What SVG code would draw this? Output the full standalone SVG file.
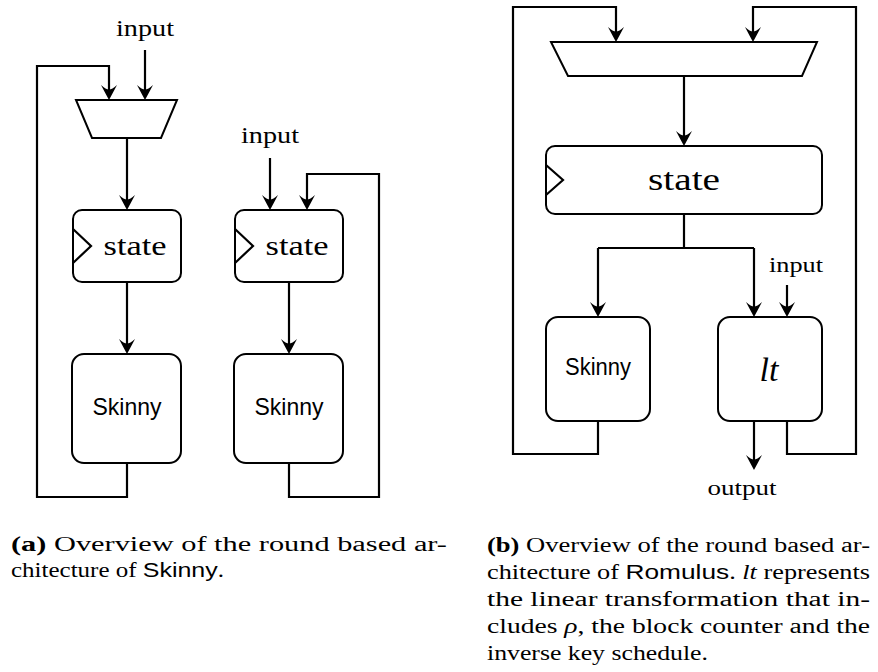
<svg xmlns="http://www.w3.org/2000/svg" width="878" height="672" viewBox="0 0 878 672">
<defs>
<style>
.box{fill:#fff;stroke:#000;stroke-width:2}
.ln{fill:none;stroke:#000;stroke-width:2.2;stroke-linejoin:miter}
.sans{font-family:"Liberation Sans",Arial,sans-serif;fill:#000}
.serif{font-family:"Liberation Serif","Times New Roman",serif;fill:#000}
.cap{font-family:"Liberation Serif","Times New Roman",serif;font-size:20px;fill:#000}
</style>
<path id="ah" d="M0,0 Q-3.8,-7 -8,-15 Q-3,-10.5 0,-10.5 Q3,-10.5 8,-15 Q3.8,-7 0,0 Z" fill="#000"/>
</defs>
<rect width="878" height="672" fill="#fff"/>

<g id="connectors">
<path class="ln" d="M127,463 V497 H37 V66 H109 V90"/>
<path class="ln" d="M145,50 V90"/>
<path class="ln" d="M127,138 V200"/>
<path class="ln" d="M127,282 V344"/>
<path class="ln" d="M270,158 V200"/>
<path class="ln" d="M289,463 V497 H379 V174 H307 V200"/>
<path class="ln" d="M289,282 V344"/>
<path class="ln" d="M598,421 V454 H513 V7 H616 V32"/>
<path class="ln" d="M787,421 V454 H856 V7 H753 V32"/>
<path class="ln" d="M684,76 V136"/>
<path class="ln" d="M684,214 V248 M598,248 H754"/>
<path class="ln" d="M598,248 V307"/>
<path class="ln" d="M754,248 V307"/>
<path class="ln" d="M787,285 V307"/>
<path class="ln" d="M754,421 V460"/>
<use href="#ah" x="109" y="100"/>
<use href="#ah" x="145" y="100"/>
<use href="#ah" x="127" y="210"/>
<use href="#ah" x="127" y="354"/>
<use href="#ah" x="270" y="210"/>
<use href="#ah" x="307" y="210"/>
<use href="#ah" x="289" y="354"/>
<use href="#ah" x="616" y="42"/>
<use href="#ah" x="753" y="42"/>
<use href="#ah" x="684" y="146"/>
<use href="#ah" x="598" y="317"/>
<use href="#ah" x="754" y="317"/>
<use href="#ah" x="787" y="317"/>
<use href="#ah" x="754" y="470"/>
</g>

<g id="a-input-left"><text class="serif" x="145" y="36" font-size="23" text-anchor="middle" textLength="58" lengthAdjust="spacingAndGlyphs">input</text></g>
<g id="a-mux"><polygon class="box" points="76,100 177,100 161,138 92,138"/></g>
<g id="a-state-left">
<rect class="box" x="73" y="210" width="108" height="72" rx="9"/>
<polyline class="ln" points="73,229 91,246 73,263"/>
<text class="serif" x="135" y="255" font-size="27" text-anchor="middle" textLength="63" lengthAdjust="spacingAndGlyphs">state</text>
</g>
<g id="a-skinny-left">
<rect class="box" x="72" y="354" width="109" height="109" rx="12"/>
<text class="sans" x="127" y="415" font-size="24" text-anchor="middle" textLength="69" lengthAdjust="spacingAndGlyphs">Skinny</text>
</g>

<g id="a-input-right"><text class="serif" x="270" y="143" font-size="23" text-anchor="middle" textLength="58" lengthAdjust="spacingAndGlyphs">input</text></g>
<g id="a-state-right">
<rect class="box" x="235" y="210" width="108" height="72" rx="9"/>
<polyline class="ln" points="235,229 253,246 235,263"/>
<text class="serif" x="297" y="255" font-size="27" text-anchor="middle" textLength="63" lengthAdjust="spacingAndGlyphs">state</text>
</g>
<g id="a-skinny-right">
<rect class="box" x="234" y="354" width="109" height="109" rx="12"/>
<text class="sans" x="289" y="415" font-size="24" text-anchor="middle" textLength="69" lengthAdjust="spacingAndGlyphs">Skinny</text>
</g>

<g id="b-mux"><polygon class="box" points="551,42 817,42 802,76 568,76"/></g>
<g id="b-state">
<rect class="box" x="546" y="146" width="276" height="68" rx="9"/>
<polyline class="ln" points="546,165 563,180 546,195"/>
<text class="serif" x="684" y="190" font-size="31" text-anchor="middle" textLength="72" lengthAdjust="spacingAndGlyphs">state</text>
</g>
<g id="b-skinny">
<rect class="box" x="546" y="317" width="104" height="104" rx="12"/>
<text class="sans" x="598" y="375" font-size="23" text-anchor="middle" textLength="66" lengthAdjust="spacingAndGlyphs">Skinny</text>
</g>
<g id="b-lt">
<rect class="box" x="718" y="317" width="104" height="104" rx="12"/>
<text class="serif" x="769" y="381" font-size="34" font-style="italic" text-anchor="middle">lt</text>
</g>
<g id="b-input"><text class="serif" x="796" y="272" font-size="22" text-anchor="middle" textLength="54" lengthAdjust="spacingAndGlyphs">input</text></g>
<g id="b-output"><text class="serif" x="742" y="495" font-size="22" text-anchor="middle" textLength="69" lengthAdjust="spacingAndGlyphs">output</text></g>

<g id="caption-a">
<text class="cap" x="11" y="551" textLength="436" lengthAdjust="spacingAndGlyphs"><tspan font-weight="bold">(a)</tspan> Overview of the round based ar-</text>
<text class="cap" x="11" y="577" textLength="213" lengthAdjust="spacingAndGlyphs">chitecture of <tspan font-family="Liberation Sans, Arial, sans-serif">Skinny</tspan>.</text>
</g>
<g id="caption-b">
<text class="cap" x="487" y="552" textLength="383" lengthAdjust="spacingAndGlyphs"><tspan font-weight="bold">(b)</tspan> Overview of the round based ar-</text>
<text class="cap" x="487" y="579" textLength="383" lengthAdjust="spacingAndGlyphs">chitecture of <tspan font-family="Liberation Sans, Arial, sans-serif">Romulus</tspan>. <tspan font-style="italic">lt</tspan> represents</text>
<text class="cap" x="487" y="606" textLength="383" lengthAdjust="spacingAndGlyphs">the linear transformation that in-</text>
<text class="cap" x="487" y="633" textLength="383" lengthAdjust="spacingAndGlyphs">cludes <tspan font-style="italic">ρ</tspan>, the block counter and the</text>
<text class="cap" x="487" y="660" textLength="221" lengthAdjust="spacingAndGlyphs">inverse key schedule.</text>
</g>
</svg>
